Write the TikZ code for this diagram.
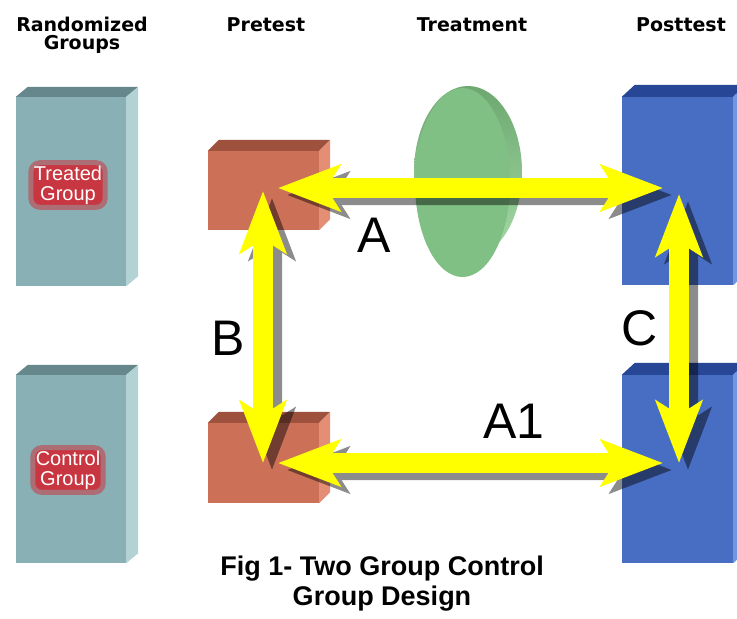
\documentclass[tikz,border=0pt]{standalone}
\usepackage{fontspec}
\setmainfont{Liberation Sans}
\newfontfamily\headfont{DejaVu Sans}
\usetikzlibrary{arrows.meta}

\definecolor{tealfront}{RGB}{137,176,180}
\definecolor{tealtop}{RGB}{102,136,140}
\definecolor{tealside}{RGB}{178,210,212}
\definecolor{prefront}{RGB}{204,112,88}
\definecolor{pretop}{RGB}{158,82,62}
\definecolor{preside}{RGB}{228,142,118}
\definecolor{postfront}{RGB}{72,110,196}
\definecolor{posttop}{RGB}{40,70,150}
\definecolor{postside}{RGB}{112,150,226}
\definecolor{lensfront}{RGB}{128,192,132}
\definecolor{lensdark}{RGB}{108,168,112}
\definecolor{lenslight}{RGB}{166,218,166}
\definecolor{arrowyellow}{RGB}{255,255,0}
\definecolor{glowred}{RGB}{200,55,65}

\tikzset{
    colhead/.style={font=\headfont\bfseries\fontsize{19}{19}\selectfont, inner sep=0pt},
    cube/.style={inner sep=0pt, draw=none},
    glow/.style={fill=glowred, draw=glowred!55!tealfront, line width=5pt, rounded corners=9pt,
        text=white, align=center, inner sep=3pt, font=\fontsize{20}{20}\selectfont},
    bigarrow/.style={line width=20pt, draw=arrowyellow,
        {Stealth[length=62pt, width=46pt, inset=14pt]}-{Stealth[length=62pt, width=46pt, inset=14pt]}},
    letter/.style={font=\fontsize{50}{50}\selectfont, inner sep=0pt},
    figcap/.style={font=\bfseries\fontsize{27}{30}\selectfont, inner sep=0pt}
}

\begin{document}
\begin{tikzpicture}[x=1pt, y=-1pt]
    \useasboundingbox (0,0) rectangle (737,619);
    \clip (0,0) rectangle (737,619);
    \fill [white] (0,0) rectangle (737,619);

    % column heads
    \node [colhead, anchor=base] (hrand) at (82,31) {Randomized};
    \node [colhead, anchor=base] (hgroups) at (82,49) {Groups};
    \node [colhead, anchor=base] (hpre) at (266,31) {Pretest};
    \node [colhead, anchor=base] (htreat) at (472,31) {Treatment};
    \node [colhead, anchor=base] (hpost) at (681,31) {Posttest};

    % randomized groups
    \node [cube, fill=tealfront, minimum width=110pt, minimum height=189pt] (treated) at (71,191.5) {};
    \fill [tealtop] (treated.north west) -- ++(12,-10) -- ([shift={(12,-10)}]treated.north east) -- (treated.north east) -- cycle;
    \fill [tealside] (treated.north east) -- ++(12,-10) -- ([shift={(12,-10)}]treated.south east) -- (treated.south east) -- cycle;
    \node [cube, fill=tealfront, minimum width=110pt, minimum height=188pt] (control) at (71,469) {};
    \fill [tealtop] (control.north west) -- ++(12,-10) -- ([shift={(12,-10)}]control.north east) -- (control.north east) -- cycle;
    \fill [tealside] (control.north east) -- ++(12,-10) -- ([shift={(12,-10)}]control.south east) -- (control.south east) -- cycle;
    \node [glow] (tlabel) at (68,185) {Treated\\Group};
    \node [glow] (clabel) at (68,470) {Control\\Group};

    % pretest
    \node [cube, fill=prefront, minimum width=111pt, minimum height=79pt] (pre1) at (263.5,190.5) {};
    \fill [pretop] (pre1.north west) -- ++(11,-11) -- ([shift={(11,-11)}]pre1.north east) -- (pre1.north east) -- cycle;
    \fill [preside] (pre1.north east) -- ++(11,-11) -- ([shift={(11,-11)}]pre1.south east) -- (pre1.south east) -- cycle;
    \node [cube, fill=prefront, minimum width=111pt, minimum height=80pt] (pre2) at (263.5,463) {};
    \fill [pretop] (pre2.north west) -- ++(11,-11) -- ([shift={(11,-11)}]pre2.north east) -- (pre2.north east) -- cycle;
    \fill [preside] (pre2.north east) -- ++(11,-11) -- ([shift={(11,-11)}]pre2.south east) -- (pre2.south east) -- cycle;

    % posttest
    \node [cube, fill=postfront, minimum width=111pt, minimum height=188pt] (post1) at (677.5,191) {};
    \fill [posttop] (post1.north west) -- ++(13,-12) -- ([shift={(13,-12)}]post1.north east) -- (post1.north east) -- cycle;
    \fill [postside] (post1.north east) -- ++(13,-12) -- ([shift={(13,-12)}]post1.south east) -- (post1.south east) -- cycle;
    \node [cube, fill=postfront, minimum width=111pt, minimum height=188pt] (post2) at (677.5,469) {};
    \fill [posttop] (post2.north west) -- ++(13,-12) -- ([shift={(13,-12)}]post2.north east) -- (post2.north east) -- cycle;
    \fill [postside] (post2.north east) -- ++(13,-12) -- ([shift={(13,-12)}]post2.south east) -- (post2.south east) -- cycle;

    % treatment lens
    \shade [top color=lensdark, bottom color=lenslight] (468,172) ellipse [x radius=54pt, y radius=86pt];
    \fill [lensfront] (462.5,182.5) ellipse [x radius=47.5pt, y radius=94.5pt];

    % arrow ends
    \coordinate (preA) at (278,188);
    \coordinate (postA) at (663,188);
    \coordinate (preB) at (263,191);
    \coordinate (preB1) at (263,463);
    \coordinate (preA1) at (278,463);
    \coordinate (postA1) at (663,463);
    \coordinate (postC) at (679,194);
    \coordinate (postC1) at (679,463);

    % shadows
    \begin{scope} [transform canvas={shift={(9pt,-7pt)}}]
    \begin{scope} [transparency group, opacity=0.45]
    \draw [bigarrow, draw=black] (preA) -- (postA);
    \draw [bigarrow, draw=black] (preB) -- (preB1);
    \draw [bigarrow, draw=black] (preA1) -- (postA1);
    \draw [bigarrow, draw=black] (postC) -- (postC1);
    \end{scope}
    \end{scope}

    \draw [bigarrow] (preA) -- (postA);
    \draw [bigarrow] (preB) -- (preB1);
    \draw [bigarrow] (preA1) -- (postA1);
    \draw [bigarrow] (postC) -- (postC1);

    \node [letter, anchor=base] (la) at (374,252) {A};
    \node [letter, anchor=base] (lb) at (228,355) {B};
    \node [letter, anchor=base] (lc) at (640,345) {C};
    \node [letter, anchor=base] (la1) at (514,438) {A1};

    % caption
    \node [figcap, anchor=base] (cap1) at (382,575) {Fig 1- Two Group Control};
    \node [figcap, anchor=base] (cap2) at (382,605) {Group Design};
\end{tikzpicture}
\end{document}
